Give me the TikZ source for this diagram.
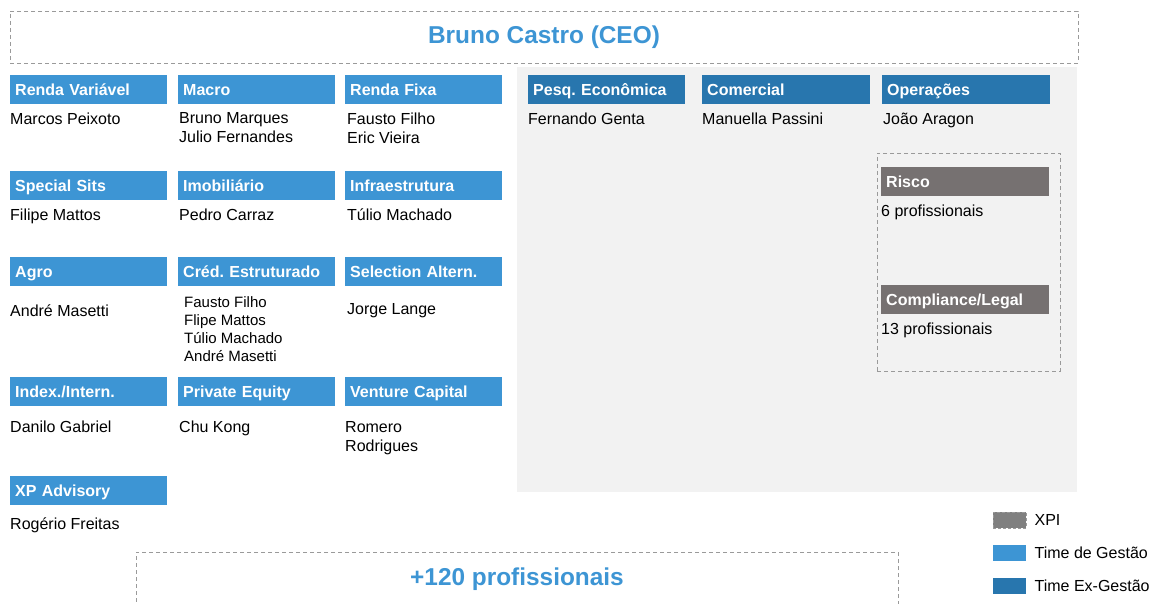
\documentclass[tikz,border=0pt]{standalone}
\usepackage{fontspec}
\setmainfont{Liberation Sans}
\usetikzlibrary{positioning}
\definecolor{gestao}{HTML}{3D95D4}
\definecolor{exgestao}{HTML}{2876AE}
\definecolor{xpicor}{HTML}{767171}
\definecolor{fundo}{HTML}{F2F2F2}
\definecolor{tracejado}{HTML}{9A9A9A}
\newcommand{\fnome}{\fontsize{16}{19}\selectfont}
\newcommand{\fcred}{\fontsize{15}{18}\selectfont}
\frenchspacing

\begin{document}
\begin{tikzpicture}[
		x=1pt,y=-1pt,
		area/.style = {anchor=north west, text=white, font=\fontsize{16}{19}\selectfont\bfseries,
			minimum height=29pt, text width=147pt, text height=15pt, text depth=3pt,
			inner xsep=5pt, inner ysep=0pt, align=left},
		gestao/.style = {area, fill=gestao},
		exgestao/.style = {area, fill=exgestao},
		xpi/.style = {area, fill=xpicor, text width=158pt},
		nome/.style = {anchor=north west, inner sep=0pt, align=left, font=\fnome},
		caixa/.style = {draw=tracejado, dash pattern=on 4pt off 3pt, line width=0.8pt, inner sep=0pt},
		titulo/.style = {caixa, text=gestao, font=\fontsize{24.4}{28}\selectfont\bfseries},
		legenda/.style = {anchor=north west, minimum width=33pt, minimum height=16pt, inner sep=0pt}
	]
	\useasboundingbox (0,0) rectangle (1152,604);
	\node (fundo) [fill=fundo, anchor=north west, minimum width=560pt, minimum height=425pt, inner sep=0pt] at (517,67) {};
	\node (ceo) [titulo, minimum width=1068pt, minimum height=52pt] at (544,37) {Bruno Castro (CEO)};
	\node (total) [titulo, minimum width=762pt, minimum height=54pt] at (517,579) {+120 profissionais};
	
	% time de gestao
	\node (areaRV) [gestao] at (10,75) {Renda Variável};
	\node (areaMacro) [gestao] at (178,75) {Macro};
	\node (areaRF) [gestao] at (345,75) {Renda Fixa};
	\node (areaSS) [gestao] at (10,171) {Special Sits};
	\node (areaImob) [gestao] at (178,171) {Imobiliário};
	\node (areaInfra) [gestao] at (345,171) {Infraestrutura};
	\node (areaAgro) [gestao] at (10,257) {Agro};
	\node (areaCred) [gestao] at (178,257) {Créd. Estruturado};
	\node (areaSel) [gestao] at (345,257) {Selection Altern.};
	\node (areaIdx) [gestao] at (10,377) {Index./Intern.};
	\node (areaPE) [gestao] at (178,377) {Private Equity};
	\node (areaVC) [gestao] at (345,377) {Venture Capital};
	\node (areaXP) [gestao] at (10,476) {XP Advisory};
	
	\node (nomeRV) [nome] at (10,112.4) {Marcos Peixoto};
	\node (nomeMacro) [nome] at (179,112.4) {Bruno Marques\\Julio Fernandes};
	\node (nomeRF) [nome] at (347,112.4) {Fausto Filho\\Eric Vieira};
	\node (nomeSS) [nome] at (10,208.4) {Filipe Mattos};
	\node (nomeImob) [nome] at (179,208.4) {Pedro Carraz};
	\node (nomeInfra) [nome] at (347,208.4) {Túlio Machado};
	\node (nomeAgro) [nome] at (10,304.4) {André Masetti};
	\node (nomeCred) [nome, font=\fcred] at (184,296.8) {Fausto Filho\\Flipe Mattos\\Túlio Machado\\André Masetti};
	\node (nomeSel) [nome] at (347,303.4) {Jorge Lange};
	\node (nomeIdx) [nome] at (10,421) {Danilo Gabriel};
	\node (nomePE) [nome] at (179,421) {Chu Kong};
	\node (nomeVC) [nome] at (345,421.4) {Romero\\Rodrigues};
	\node (nomeXP) [nome] at (10,517.4) {Rogério Freitas};
	
	% time ex-gestao
	\node (areaPesq) [exgestao] at (528,75) {Pesq. Econômica};
	\node (areaCom) [exgestao, text width=158pt] at (702,75) {Comercial};
	\node (areaOp) [exgestao, text width=158pt] at (882,75) {Operações};
	\node (nomePesq) [nome] at (528,112.4) {Fernando Genta};
	\node (nomeCom) [nome] at (702,112.4) {Manuella Passini};
	\node (nomeOp) [nome] at (883,112.4) {João Aragon};
	
	% xpi
	\node (grupoXPI) [caixa, minimum width=183pt, minimum height=218pt] at (968.5,262) {};
	\node (areaRisco) [xpi] at (881,167) {Risco};
	\node (areaComp) [xpi] at (881,284.5) {Compliance/Legal};
	\node (nomeRisco) [nome] at (881,204.4) {6 profissionais};
	\node (nomeComp) [nome] at (881,322.4) {13 profissionais};
	
	% legenda
	\node (legXPI) [legenda, fill=gray, draw=tracejado, densely dashed] at (993,512) {};
	\node (legGestao) [legenda, fill=gestao] at (993,545) {};
	\node (legExGestao) [legenda, fill=exgestao] at (993,578) {};
	\node [right=8pt of legXPI, inner sep=0pt, font=\fnome] {XPI};
	\node [right=8pt of legGestao, inner sep=0pt, font=\fnome] {Time de Gestão};
	\node [right=8pt of legExGestao, inner sep=0pt, font=\fnome] {Time Ex-Gestão};
\end{tikzpicture}
\end{document}
